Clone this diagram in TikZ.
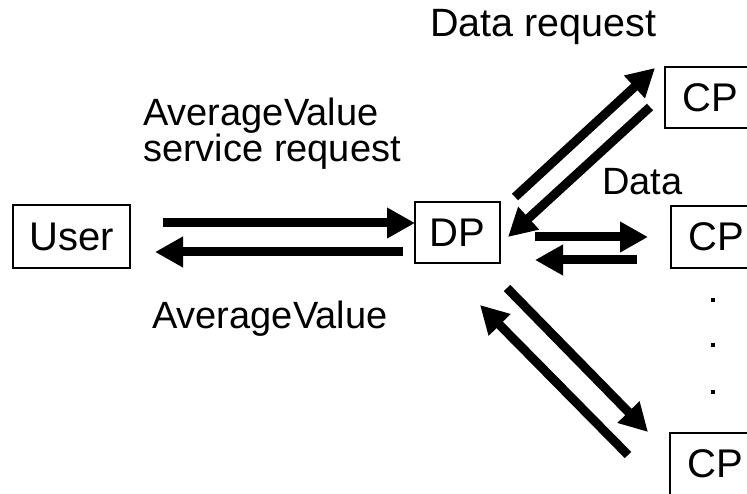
\documentclass[tikz,border=0pt]{standalone}
\usepackage{fontspec}
\setmainfont{Liberation Sans}
\usetikzlibrary{arrows.meta}
\begin{document}
\begin{tikzpicture}[x=1pt,y=-1pt,
  box/.style={draw,line width=1.5pt,inner sep=0pt,font=\fontsize{40}{44}\selectfont},
  label/.style={inner sep=0pt,anchor=base west,font=\fontsize{38}{34}\selectfont},
  flow/.style={line width=9pt,-{Triangle[length=28pt,width=29pt]}},
  dot/.style={fill,inner sep=0pt,minimum size=4.5pt}]
\useasboundingbox (0,0) rectangle (747,494);

% boxes
\node[box,minimum width=117pt,minimum height=63pt] (user) at (71.5,236.5) {User};
\node[box,minimum width=85pt,minimum height=61pt] (dp) at (457.5,232.5) {DP};
\node[box,minimum width=90pt,minimum height=61pt] (cp1) at (710,97.5) {CP};
\node[box,minimum width=90pt,minimum height=62pt] (cp2) at (716,237) {CP};
\node[box,minimum width=90pt,minimum height=62pt] (cp3) at (715,464) {CP};

% continuation dots
\node[dot] (d1) at (713,300) {};
\node[dot] (d2) at (713,345) {};
\node[dot] (d3) at (713,392) {};

% labels (the two-line label is placed by the baseline of its last line)
\node[label,font=\fontsize{39.5}{44}\selectfont] (lreq) at (430,37) {Data request};
\node[label,align=left] (lav) at (143,162) {AverageValue\\service request};
\node[label] (ldat) at (602,195) {Data};
\node[label] (lres) at (152,328) {AverageValue};

% arrow end points
\coordinate (a1s) at (163,223);   \coordinate (a1e) at (415,223);
\coordinate (a2s) at (403,252);   \coordinate (a2e) at (155,252);
\coordinate (b1s) at (515,197);   \coordinate (b1e) at (655,68);
\coordinate (b2s) at (650,107);   \coordinate (b2e) at (508,237);
\coordinate (c1s) at (535,237);   \coordinate (c1e) at (648,237);
\coordinate (c2s) at (637,260);   \coordinate (c2e) at (535,260);
\coordinate (e1s) at (507,288);   \coordinate (e1e) at (648,432);
\coordinate (e2s) at (628,455);   \coordinate (e2e) at (480,305);

% message flows
\draw[flow] (a1s) -- (a1e);
\draw[flow] (a2s) -- (a2e);
\draw[flow] (b1s) -- (b1e);
\draw[flow] (b2s) -- (b2e);
\draw[flow] (c1s) -- (c1e);
\draw[flow] (c2s) -- (c2e);
\draw[flow] (e1s) -- (e1e);
\draw[flow] (e2s) -- (e2e);
\end{tikzpicture}
\end{document}
